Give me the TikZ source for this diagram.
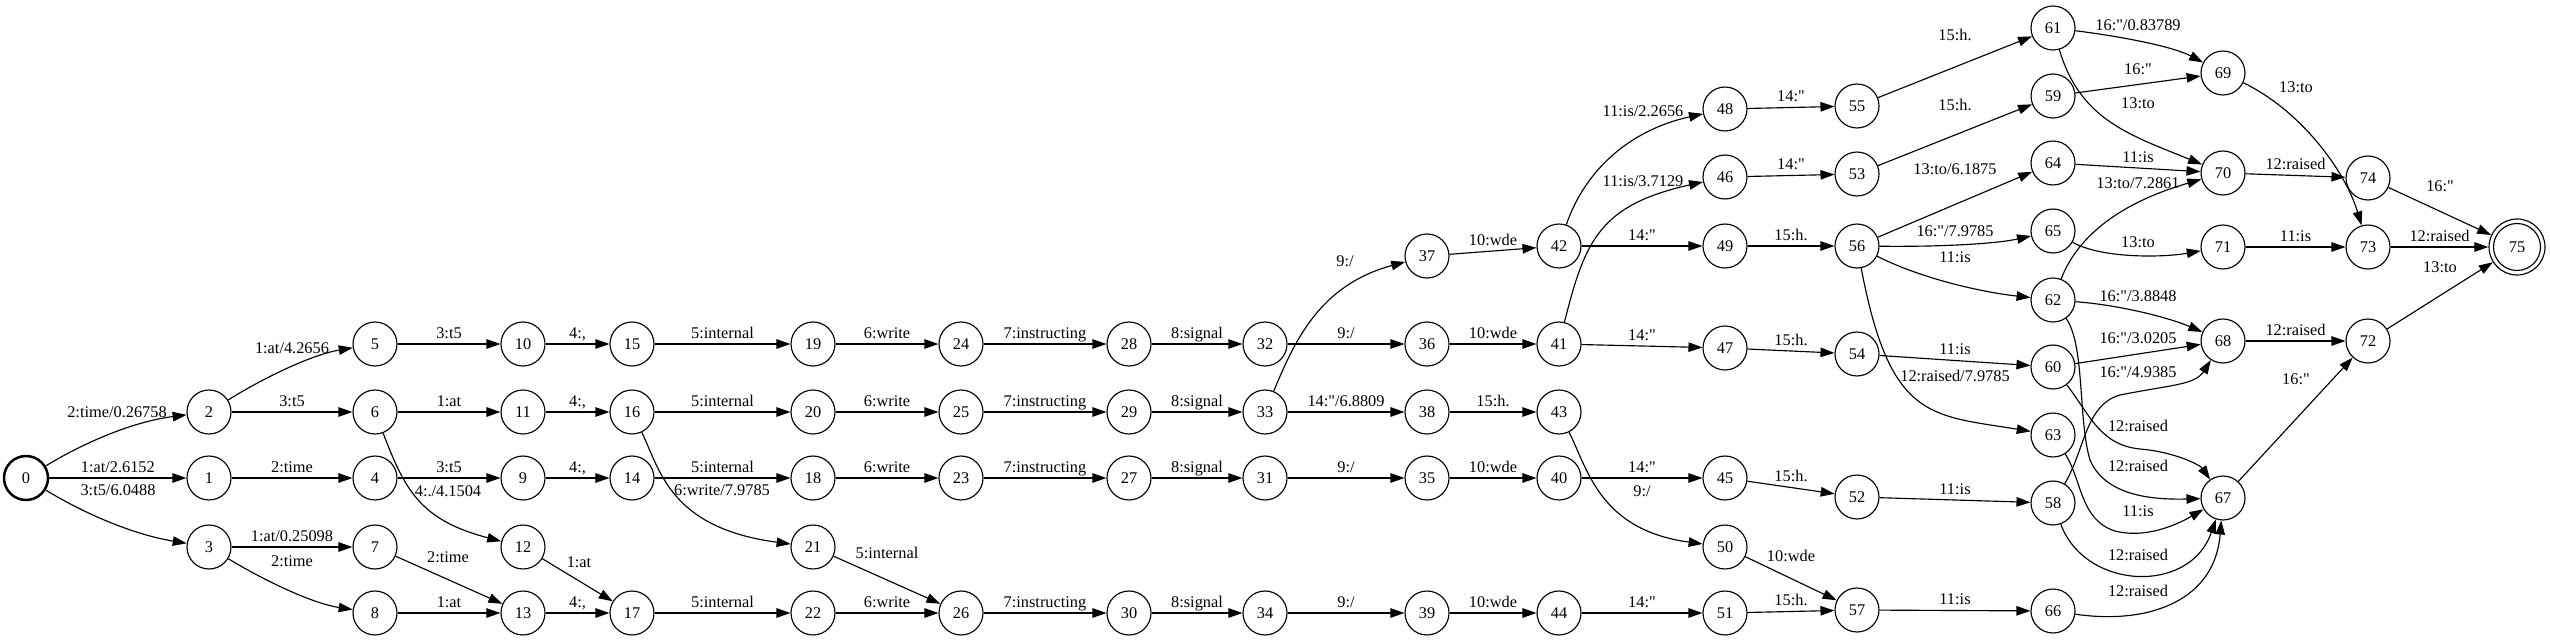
\documentclass[tikz,border=0pt]{standalone}
\usepackage{fontspec}
\setmainfont{Liberation Serif}[Ligatures=TeXOff]
\usetikzlibrary{arrows.meta}

\tikzset{
  st/.style={circle,draw,line width=0.65pt,minimum size=0.88cm,inner sep=0pt},
  tr/.style={-{Triangle[length=0.28cm,width=0.19cm]},line width=0.65pt},
  lb/.style={inner sep=1pt,text height=0.7em,text depth=0.2em},
}

\begin{document}
\begin{tikzpicture}[x=0.02cm,y=-0.02cm,font=\fontsize{9.3}{11}\selectfont]
\useasboundingbox (0,0) rectangle (2550,642);

% states
\node[st,line width=1.4pt] (s0) at (26,478) {0};
\node[st] (s1) at (209,478) {1};
\node[st] (s2) at (209,412) {2};
\node[st] (s3) at (209,547) {3};
\node[st] (s4) at (375,478) {4};
\node[st] (s5) at (375,344) {5};
\node[st] (s6) at (375,412) {6};
\node[st] (s7) at (375,547) {7};
\node[st] (s8) at (375,613) {8};
\node[st] (s9) at (523,478) {9};
\node[st] (s10) at (523,344) {10};
\node[st] (s11) at (523,412) {11};
\node[st] (s12) at (523,547) {12};
\node[st] (s13) at (523,613) {13};
\node[st] (s14) at (632,478) {14};
\node[st] (s15) at (632,344) {15};
\node[st] (s16) at (632,412) {16};
\node[st] (s17) at (632,613) {17};
\node[st] (s18) at (813,478) {18};
\node[st] (s19) at (813,344) {19};
\node[st] (s20) at (813,412) {20};
\node[st] (s21) at (813,547) {21};
\node[st] (s22) at (813,613) {22};
\node[st] (s23) at (961,478) {23};
\node[st] (s24) at (961,344) {24};
\node[st] (s25) at (961,412) {25};
\node[st] (s26) at (961,613) {26};
\node[st] (s27) at (1129,478) {27};
\node[st] (s28) at (1129,344) {28};
\node[st] (s29) at (1129,412) {29};
\node[st] (s30) at (1129,613) {30};
\node[st] (s31) at (1265,478) {31};
\node[st] (s32) at (1265,344) {32};
\node[st] (s33) at (1265,412) {33};
\node[st] (s34) at (1265,613) {34};
\node[st] (s35) at (1427,478) {35};
\node[st] (s36) at (1427,344) {36};
\node[st] (s37) at (1427,256) {37};
\node[st] (s38) at (1427,412) {38};
\node[st] (s39) at (1427,613) {39};
\node[st] (s40) at (1559,478) {40};
\node[st] (s41) at (1559,344) {41};
\node[st] (s42) at (1559,246) {42};
\node[st] (s43) at (1559,412) {43};
\node[st] (s44) at (1559,613) {44};
\node[st] (s45) at (1725,478) {45};
\node[st] (s46) at (1725,177) {46};
\node[st] (s47) at (1725,348) {47};
\node[st] (s48) at (1725,109) {48};
\node[st] (s49) at (1725,246) {49};
\node[st] (s50) at (1725,547) {50};
\node[st] (s51) at (1725,613) {51};
\node[st] (s52) at (1857,497) {52};
\node[st] (s53) at (1857,174) {53};
\node[st] (s54) at (1857,354) {54};
\node[st] (s55) at (1857,106) {55};
\node[st] (s56) at (1857,246) {56};
\node[st] (s57) at (1857,610) {57};
\node[st] (s58) at (2053,503) {58};
\node[st] (s59) at (2053,96) {59};
\node[st] (s60) at (2053,367) {60};
\node[st] (s61) at (2053,28) {61};
\node[st] (s62) at (2053,300) {62};
\node[st] (s63) at (2053,435) {63};
\node[st] (s64) at (2053,163) {64};
\node[st] (s65) at (2053,231) {65};
\node[st] (s66) at (2053,611) {66};
\node[st] (s67) at (2223,498) {67};
\node[st] (s68) at (2223,341) {68};
\node[st] (s69) at (2223,73) {69};
\node[st] (s70) at (2223,173) {70};
\node[st] (s71) at (2223,247) {71};
\node[st] (s72) at (2368,341) {72};
\node[st] (s73) at (2368,247) {73};
\node[st] (s74) at (2368,178) {74};
\node[st,minimum size=1.12cm] (s75) at (2517,247) {75};
\draw[line width=0.65pt] (s75.center) circle (0.47cm);

% straight transitions
\draw[tr] (s0) -- node[lb,above] {1:at/2.6152} (s1);
\draw[tr] (s1) -- node[lb,above] {2:time} (s4);
\draw[tr] (s2) -- node[lb,above] {3:t5} (s6);
\draw[tr] (s3) -- node[lb,above] {1:at/0.25098} (s7);
\draw[tr] (s5) -- node[lb,above] {3:t5} (s10);
\draw[tr] (s6) -- node[lb,above] {1:at} (s11);
\draw[tr] (s4) -- node[lb,above] {3:t5} (s9);
\draw[tr] (s8) -- node[lb,above] {1:at} (s13);
\draw[tr] (s10) -- node[lb,above] {4:,} (s15);
\draw[tr] (s11) -- node[lb,above] {4:,} (s16);
\draw[tr] (s9) -- node[lb,above] {4:,} (s14);
\draw[tr] (s13) -- node[lb,above] {4:,} (s17);
\draw[tr] (s15) -- node[lb,above] {5:internal} (s19);
\draw[tr] (s16) -- node[lb,above] {5:internal} (s20);
\draw[tr] (s14) -- node[lb,above] {5:internal} (s18);
\draw[tr] (s17) -- node[lb,above] {5:internal} (s22);
\draw[tr] (s19) -- node[lb,above] {6:write} (s24);
\draw[tr] (s20) -- node[lb,above] {6:write} (s25);
\draw[tr] (s18) -- node[lb,above] {6:write} (s23);
\draw[tr] (s22) -- node[lb,above] {6:write} (s26);
\draw[tr] (s24) -- node[lb,above] {7:instructing} (s28);
\draw[tr] (s25) -- node[lb,above] {7:instructing} (s29);
\draw[tr] (s23) -- node[lb,above] {7:instructing} (s27);
\draw[tr] (s26) -- node[lb,above] {7:instructing} (s30);
\draw[tr] (s28) -- node[lb,above] {8:signal} (s32);
\draw[tr] (s29) -- node[lb,above] {8:signal} (s33);
\draw[tr] (s27) -- node[lb,above] {8:signal} (s31);
\draw[tr] (s30) -- node[lb,above] {8:signal} (s34);
\draw[tr] (s32) -- node[lb,above] {9:/} (s36);
\draw[tr] (s33) -- node[lb,above] {14:"/6.8809} (s38);
\draw[tr] (s31) -- node[lb,above] {9:/} (s35);
\draw[tr] (s34) -- node[lb,above] {9:/} (s39);
\draw[tr] (s37) -- node[lb,above] {10:wde} (s42);
\draw[tr] (s36) -- node[lb,above] {10:wde} (s41);
\draw[tr] (s38) -- node[lb,above] {15:h.} (s43);
\draw[tr] (s35) -- node[lb,above] {10:wde} (s40);
\draw[tr] (s39) -- node[lb,above] {10:wde} (s44);
\draw[tr] (s42) -- node[lb,above] {14:"} (s49);
\draw[tr] (s41) -- node[lb,above] {14:"} (s47);
\draw[tr] (s40) -- node[lb,above] {14:"} (s45);
\draw[tr] (s44) -- node[lb,above] {14:"} (s51);
\draw[tr] (s48) -- node[lb,above] {14:"} (s55);
\draw[tr] (s46) -- node[lb,above] {14:"} (s53);
\draw[tr] (s49) -- node[lb,above] {15:h.} (s56);
\draw[tr] (s47) -- node[lb,above] {15:h.} (s54);
\draw[tr] (s45) -- node[lb,above] {15:h.} (s52);
\draw[tr] (s51) -- node[lb,above] {15:h.} (s57);
\draw[tr] (s54) -- node[lb,above] {11:is} (s60);
\draw[tr] (s52) -- node[lb,above] {11:is} (s58);
\draw[tr] (s57) -- node[lb,above] {11:is} (s66);
\draw[tr] (s64) -- node[lb,above] {11:is} (s70);
\draw[tr] (s68) -- node[lb,above] {12:raised} (s72);
\draw[tr] (s70) -- node[lb,above] {12:raised} (s74);
\draw[tr] (s71) -- node[lb,above] {11:is} (s73);
\draw[tr] (s73) -- node[lb,above] {12:raised} (s75);

% sloped and bent transitions
\draw[tr] (s0) .. controls (80,445) and (130,422) .. (s2);
\node[lb] (l0-2) at (117,413) {2:time/0.26758};
\draw[tr] (s0) .. controls (80,511) and (130,534) .. (s3);
\node[lb] (l0-3) at (118,491) {3:t5/6.0488};
\draw[tr] (s2) .. controls (260,380) and (310,355) .. (s5);
\node[lb] (l2-5) at (292,349) {1:at/4.2656};
\draw[tr] (s3) .. controls (260,578) and (310,603) .. (s8);
\node[lb] (l3-8) at (292,562) {2:time};
\draw[tr] (s6) .. controls (405,490) and (420,520) .. (s12);
\node[lb] (l6-12) at (448,492) {4:./4.1504};
\draw[tr] (s7) -- (s13);
\node[lb] (l7-13) at (448,558) {2:time};
\draw[tr] (s12) -- (s17);
\node[lb] (l12-17) at (579,563) {1:at};
\draw[tr] (s16) .. controls (660,470) and (670,528) .. (s21);
\node[lb] (l16-21) at (722,491) {6:write/7.9785};
\draw[tr] (s21) -- (s26);
\node[lb] (l21-26) at (887,554) {5:internal};
\draw[tr] (s33) .. controls (1295,340) and (1320,285) .. (s37);
\node[lb] (l33-37) at (1345,262) {9:/};
\draw[tr] (s42) .. controls (1585,170) and (1630,130) .. (s48);
\node[lb] (l42-48) at (1643,112) {11:is/2.2656};
\draw[tr] (s41) .. controls (1585,240) and (1600,205) .. (s46);
\node[lb] (l41-46) at (1643,182) {11:is/3.7129};
\draw[tr] (s43) .. controls (1588,470) and (1600,530) .. (s50);
\node[lb] (l43-50) at (1642,492) {9:/};
\draw[tr] (s50) -- (s57);
\node[lb] (l50-57) at (1791,557) {10:wde};

\draw[tr] (s55) -- (s61);
\node[lb] (l55-61) at (1955,36) {15:h.};
\draw[tr] (s53) -- (s59);
\node[lb] (l53-59) at (1955,106) {15:h.};
\draw[tr] (s56) -- (s64);
\node[lb] (l56-64) at (1955,170) {13:to/6.1875};
\draw[tr] (s56) .. controls (1950,247) and (2000,243) .. (s65);
\node[lb] (l56-65) at (1955,232) {16:"/7.9785};
\draw[tr] (s56) .. controls (1920,278) and (1980,292) .. (s62);
\node[lb] (l56-62) at (1955,258) {11:is};
\draw[tr] (s56) .. controls (1890,420) and (1930,415) .. (s63);
\node[lb] (l56-63) at (1955,377) {12:raised/7.9785};

\draw[tr] (s61) .. controls (2110,35) and (2170,45) .. (s69);
\node[lb] (l61-69) at (2138,26) {16:"/0.83789};
\draw[tr] (s59) -- (s69);
\node[lb] (l59-69) at (2138,70) {16:"};
\draw[tr] (s61) .. controls (2080,120) and (2130,135) .. (s70);
\node[lb] (l61-70) at (2138,104) {13:to};
\draw[tr] (s62) .. controls (2080,230) and (2130,200) .. (s70);
\node[lb] (l62-70) at (2138,184) {13:to/7.2861};
\draw[tr] (s65) .. controls (2100,258) and (2160,258) .. (s71);
\node[lb] (l65-71) at (2138,243) {13:to};
\draw[tr] (s62) .. controls (2120,305) and (2170,318) .. (s68);
\node[lb] (l62-68) at (2138,297) {16:"/3.8848};
\draw[tr] (s60) -- (s68);
\node[lb] (l60-68) at (2138,339) {16:"/3.0205};
\draw[tr] (s58) .. controls (2085,450) and (2085,405) .. (2120,395)
  .. controls (2170,385) and (2195,385) .. (s68);
\node[lb] (l58-68) at (2138,373) {16:"/4.9385};
\draw[tr] (s60) .. controls (2090,415) and (2100,445) .. (2140,449)
  .. controls (2175,452) and (2200,465) .. (s67);
\node[lb] (l60-67) at (2138,427) {12:raised};
\draw[tr] (s62) .. controls (2085,345) and (2078,420) .. (2090,460)
  .. controls (2105,495) and (2150,500) .. (s67);
\node[lb] (l62-67) at (2138,467) {12:raised};
\draw[tr] (s63) .. controls (2082,480) and (2080,520) .. (2115,531)
  .. controls (2150,540) and (2185,520) .. (s67);
\node[lb] (l63-67) at (2138,512) {11:is};
\draw[tr] (s58) .. controls (2085,590) and (2190,595) .. (s67);
\node[lb] (l58-67) at (2138,556) {12:raised};
\draw[tr] (s66) .. controls (2150,625) and (2215,600) .. (s67);
\node[lb] (l66-67) at (2138,592) {12:raised};

\draw[tr] (s69) .. controls (2300,110) and (2345,170) .. (s73);
\node[lb] (l69-73) at (2296,88) {13:to};
\draw[tr] (s67) -- (s72);
\node[lb] (l67-72) at (2296,380) {16:"};
\draw[tr] (s74) -- (s75);
\node[lb] (l74-75) at (2440,187) {16:"};
\draw[tr] (s72) -- (s75);
\node[lb] (l72-75) at (2440,268) {13:to};
\end{tikzpicture}
\end{document}
